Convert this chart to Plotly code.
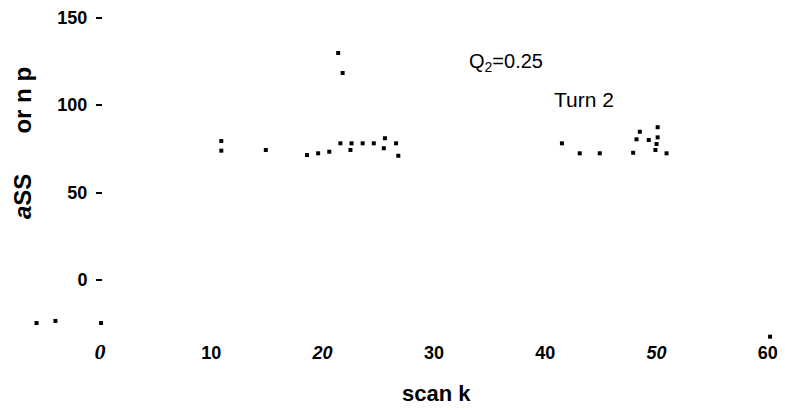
import plotly.graph_objects as go

# ---- data ----
scan_k = [-5.7, -4.0, 0.1,
          10.9, 10.9, 14.9,
          18.6, 19.6, 20.6, 21.6, 22.6, 22.5, 23.6, 24.6, 25.6, 25.5, 26.6, 26.8,
          21.4, 21.8,
          41.5, 43.1, 44.9, 47.9, 48.2, 48.5, 49.3, 50.1, 50.1, 50.0, 49.9, 50.9,
          60.2]
values = [-24.6, -23.4, -24.6,
          79.4, 73.9, 74.3,
          71.4, 72.4, 73.3, 78.1, 78.1, 74.3, 78.1, 78.1, 81.0, 75.3, 78.1, 71.0,
          129.7, 118.3,
          78.1, 72.4, 72.4, 72.7, 80.4, 84.7, 80.0, 87.3, 81.5, 77.7, 74.3, 72.4,
          -32.4]

x_tick_vals = [0, 10, 20, 30, 40, 50, 60]
x_tick_text = ["<span style='font-family:Liberation Serif;font-size:22px'><b><i>0</i></b></span>",
               "<b>10</b>", "<b><i>20</i></b>", "<b>30</b>", "<b>40</b>", "<b><i>50</i></b>", "<b>60</b>"]
y_tick_vals = [0, 50, 100, 150]
y_tick_text = ["<b>0</b>", "<b>50</b>", "<b>100</b>", "<b>150</b>"]

x_title = "scan k"
y_title = "<i>a</i>SS&nbsp;&nbsp;&nbsp;&nbsp;&nbsp;&nbsp;or n p"
label_q = "Q<sub>2</sub>=0.25"
label_turn = "Turn 2"

fig = go.Figure()
fig.add_trace(go.Scatter(
    x=scan_k, y=values, mode="markers",
    marker=dict(symbol="square", size=4, color="black"),
    showlegend=False, hoverinfo="skip"))

font_main = "Liberation Sans, Arial, sans-serif"

fig.update_layout(
    width=786, height=410,
    margin=dict(l=0, r=0, t=0, b=70),
    paper_bgcolor="white", plot_bgcolor="white",
    font=dict(family=font_main, color="black"),
    xaxis=dict(range=[-8.98, 61.63], showgrid=False, zeroline=False, showline=False,
               tickmode="array", tickvals=x_tick_vals, ticktext=x_tick_text,
               ticks="", tickfont=dict(size=18, family=font_main, color="black"),
               ticklabelstandoff=0),
    yaxis=dict(range=[-34.29, 160], showgrid=False, zeroline=False, showline=False,
               anchor="free", position=102/786,
               tickmode="array", tickvals=y_tick_vals, ticktext=y_tick_text,
               ticks="outside", ticklen=6, tickwidth=2, tickcolor="black",
               tickfont=dict(size=18, family=font_main, color="black"),
               ticklabelstandoff=5),
    annotations=[
        dict(text="<b>" + x_title + "</b>", xref="x", x=30.2, yref="paper", y=0,
             yshift=-53, yanchor="middle", xanchor="center", showarrow=False,
             font=dict(size=22, family=font_main)),
        dict(text="<b>" + y_title + "</b>", xref="paper", x=22/786, yref="paper",
             y=1 - 143/340, textangle=-90, xanchor="center", yanchor="middle",
             showarrow=False, font=dict(size=24, family=font_main)),
        dict(text=label_q, xref="paper", x=467/786, xanchor="left", yref="paper",
             y=1 - 62/340, yanchor="middle", showarrow=False,
             font=dict(size=20, family=font_main)),
        dict(text=label_turn, xref="paper", x=552/786, xanchor="left", yref="paper",
             y=1 - 99/340, yanchor="middle", showarrow=False,
             font=dict(size=21, family=font_main)),
    ],
)

fig.write_html("out.html")
